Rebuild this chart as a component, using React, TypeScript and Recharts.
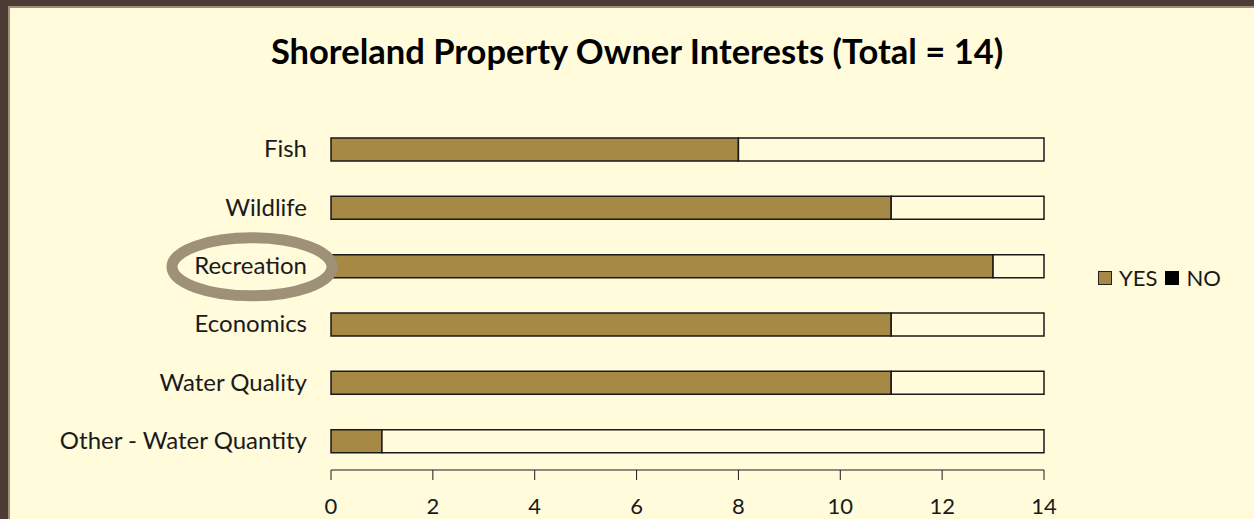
import React from 'react';
import { BarChart, Bar, XAxis, YAxis } from 'recharts';

const categories = ['Fish', 'Wildlife', 'Recreation', 'Economics', 'Water Quality', 'Other - Water Quantity'];
const yesCounts = [8, 11, 13, 11, 11, 1];
const noCounts = [6, 3, 1, 3, 3, 13];
const xTicks = [0, 2, 4, 6, 8, 10, 12, 14];
const legendItems = [
  { label: 'YES', color: '#A68945' },
  { label: 'NO', color: '#000000' },
];

const data = categories.map((name, i) => ({ name, yes: yesCounts[i], no: noCounts[i] }));

const BG = '#FFFBDB';
const GOLD = '#A68945';
const FONT = 'Lato, "Open Sans", sans-serif';

const CategoryTick = (props: any) => {
  const { x, y, payload } = props;
  const tx = x - 16;
  return (
    <g>
      {payload.value === 'Recreation' && (
        <ellipse cx={tx - 55} cy={y + 1} rx={80} ry={29} fill="none" stroke="#9E9177" strokeWidth={11} />
      )}
      <text x={tx} y={y} dy={8} textAnchor="end" fontSize={24} fill="#1a1a1a" fontFamily={FONT}>
        {payload.value}
      </text>
    </g>
  );
};

export default function App() {
  return (
    <div style={{ position: 'absolute', left: 0, top: 0, width: 1254, height: 519, background: '#4D3C35', overflow: 'hidden' }}>
      <div style={{ position: 'absolute', left: 8, top: 6, width: 1254, height: 519, background: '#A09078' }} />
      <div style={{ position: 'absolute', left: 10, top: 8, width: 1254, height: 519, background: BG }} />
      <div
        style={{
          position: 'absolute', left: 0, top: 31, width: 1274, textAlign: 'center', lineHeight: '40px',
          fontFamily: FONT, fontWeight: 700, fontSize: 34.5, color: '#000',
        }}
      >
        Shoreland Property Owner Interests (Total = 14)
      </div>
      <div style={{ position: 'absolute', left: 0, top: 0 }}>
        <BarChart
          width={1254}
          height={519}
          data={data}
          layout="vertical"
          margin={{ top: 120, right: 210, bottom: 0, left: 10 }}
          barSize={23}
        >
          <XAxis
            type="number"
            domain={[0, 14]}
            ticks={xTicks}
            height={49}
            tickSize={10}
            tickMargin={18}
            stroke="#1a1a1a"
            tick={{ fill: '#1a1a1a', fontSize: 22, fontFamily: FONT }}
          />
          <YAxis
            type="category"
            dataKey="name"
            width={321}
            axisLine={false}
            tickLine={false}
            tick={<CategoryTick />}
          />
          <Bar dataKey="yes" name="YES" stackId="a" fill={GOLD} stroke="#1a1a1a" strokeWidth={1.5} isAnimationActive={false} />
          <Bar dataKey="no" name="NO" stackId="a" fill={BG} stroke="#1a1a1a" strokeWidth={1.5} isAnimationActive={false} />
        </BarChart>
      </div>
      <div
        style={{
          position: 'absolute', left: 1098, top: 263, display: 'flex', alignItems: 'center',
          fontFamily: FONT, fontSize: 22, color: '#1a1a1a', lineHeight: '30px',
        }}
      >
        {legendItems.map((it, i) => (
          <React.Fragment key={it.label}>
            <span
              style={{
                width: it.label === 'YES' ? 12 : 14, height: it.label === 'YES' ? 12 : 14, background: it.color,
                border: it.label === 'YES' ? '1px solid #222' : 'none', marginRight: 7,
              }}
            />
            <span style={{ marginRight: i === 0 ? 8 : 0 }}>{it.label}</span>
          </React.Fragment>
        ))}
      </div>
    </div>
  );
}
